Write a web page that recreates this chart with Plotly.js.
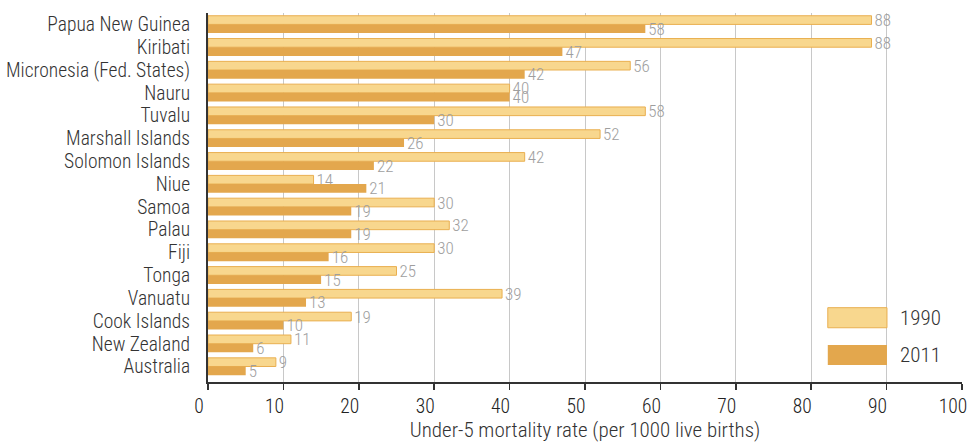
<!DOCTYPE html>
<html>
<head>
<meta charset="utf-8">
<script src="https://cdn.plot.ly/plotly-3.0.1.min.js"></script>
<style>html,body{margin:0;padding:0;background:#fff;}#chart{width:968px;height:443px;}</style>
</head>
<body>
<div id="chart"></div>
<script>
var countries = ["Papua New Guinea","Kiribati","Micronesia (Fed. States)","Nauru","Tuvalu","Marshall Islands","Solomon Islands","Niue","Samoa","Palau","Fiji","Tonga","Vanuatu","Cook Islands","New Zealand","Australia"];
var rate1990 = [88,88,56,40,58,52,42,14,30,32,30,25,39,19,11,9];
var rate2011 = [58,47,42,40,30,26,22,21,19,19,16,15,13,10,6,5];
var seriesNames = ["1990","2011"];
var xTicks = [0,10,20,30,40,50,60,70,80,90,100];

var FONT = "'Roboto Condensed', 'Liberation Sans', sans-serif";
var W = 300;
var c1990 = "rgb(248,215,142)", c1990line = "rgb(233,175,80)", c2011 = "rgb(227,167,77)";
var labelColor = "rgb(158,158,158)";

var traces = [
  {type:"bar", orientation:"h", name:seriesNames[0], y:countries, x:rate1990,
   marker:{color:c1990, line:{color:c1990line, width:1}},
   text:rate1990.map(String), textposition:"outside", cliponaxis:false, constraintext:"none",
   textfont:{family:FONT, size:17, color:labelColor, weight:W}, showlegend:false, hoverinfo:"x+y"},
  {type:"bar", orientation:"h", name:seriesNames[1], y:countries, x:rate2011,
   marker:{color:c2011, line:{width:0}},
   text:rate2011.map(String), textposition:"outside", cliponaxis:false, constraintext:"none",
   textfont:{family:FONT, size:17, color:labelColor, weight:W}, showlegend:false, hoverinfo:"x+y"}
];

var layout = {
  width:968, height:443,
  margin:{l:208, r:6, t:13, b:61},
  paper_bgcolor:"#fff", plot_bgcolor:"#fff",
  font:{family:FONT, size:19, color:"#333", weight:W},
  barmode:"group", bargap:0.24, bargroupgap:0,
  xaxis:{range:[0,100], tickmode:"array", tickvals:xTicks, ticktext:xTicks.map(String),
    showgrid:true, gridcolor:"rgb(200,200,200)", gridwidth:1,
    showline:true, linecolor:"#333", linewidth:1.5,
    ticks:"outside", ticklen:6, tickcolor:"#333", tickwidth:1.5,
    ticklabelshift:-9, ticklabeloverflow:"allow",
    tickfont:{family:FONT, size:19.5, color:"#222", weight:W}, zeroline:false,
    title:{text:"Under-5 mortality rate (per 1000 live births)", font:{family:FONT, size:21, color:"#333", weight:W}, standoff:5}},
  yaxis:{type:"category", tickmode:"array", tickvals:countries, ticktext:countries,
    range:[15.68,-0.5], showgrid:false,
    showline:true, linecolor:"#333", linewidth:2, ticks:"", ticklabelstandoff:12,
    tickfont:{family:FONT, size:19.5, color:"#333", weight:W}},
  shapes:[
    {type:"rect", xref:"paper", yref:"paper", x0:0.822, x1:0.9005, y0:0.147, y1:0.2014,
     fillcolor:c1990, line:{color:c1990line, width:1}},
    {type:"rect", xref:"paper", yref:"paper", x0:0.822, x1:0.9005, y0:0.046, y1:0.1003,
     fillcolor:c2011, line:{width:0}}
  ],
  annotations:[
    {xref:"paper", yref:"paper", x:0.915, y:0.1734, xanchor:"left", yanchor:"middle", showarrow:false,
     text:seriesNames[0], font:{family:FONT, size:21, color:"#333", weight:W}},
    {xref:"paper", yref:"paper", x:0.915, y:0.0732, xanchor:"left", yanchor:"middle", showarrow:false,
     text:seriesNames[1], font:{family:FONT, size:21, color:"#333", weight:W}}
  ]
};

Plotly.newPlot("chart", traces, layout, {displayModeBar:false, staticPlot:true});
</script>
</body>
</html>
